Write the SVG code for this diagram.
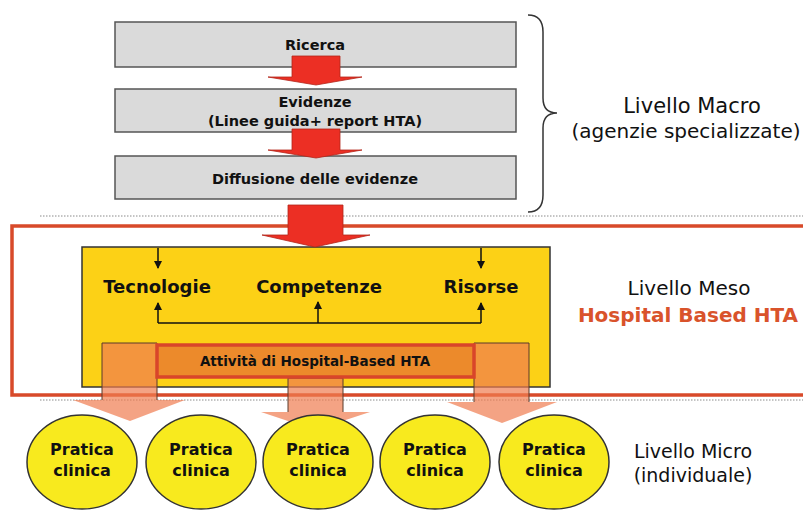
<svg xmlns="http://www.w3.org/2000/svg" width="803" height="511" viewBox="0 0 803 511">
<style>
  text { font-family: "DejaVu Sans", "Liberation Sans", sans-serif; text-anchor: middle; fill: #111; }
  .b { font-weight: bold; }
  .gray { fill: #dadada; stroke: #555; stroke-width: 1.5; }
  .redarrow { fill: #ec2f24; stroke: #b3261b; stroke-width: 0.8; }
  .salmon { fill: #f07c50; fill-opacity: 0.7; stroke: none; }
  .shaft { fill: none; stroke: #5a3b2a; stroke-width: 1; }
  .dots { stroke: #8a8a8a; stroke-width: 1; stroke-dasharray: 1.5 1.5; fill: none; }
  .conn { stroke: #111; stroke-width: 1.5; fill: none; }
  .circ { fill: #f8ea1e; stroke: #333; stroke-width: 1.5; }
  .gt { font-size: 14.5px; font-weight: bold; }
  .mt { font-size: 18px; font-weight: bold; }
  .ct { font-size: 16px; font-weight: bold; }
  .lab { font-size: 20px; }
  .labs { font-size: 19px; }
</style>
<defs>
  <marker id="ah" markerWidth="8" markerHeight="8" refX="7" refY="4" orient="auto" markerUnits="userSpaceOnUse">
    <path d="M0,0 L8,4 L0,8 Z" fill="#111"/>
  </marker>
</defs>
<rect x="0" y="0" width="803" height="511" fill="#fff"/>

<g id="separators">
  <line class="dots" x1="40" y1="216" x2="803" y2="216"/>
  <line class="dots" x1="40" y1="400" x2="803" y2="400"/>
</g>

<g id="meso-frame">
  <rect x="12" y="226" width="800" height="169" fill="none" stroke="#d84a2a" stroke-width="3.5"/>
</g>

<g id="ricerca">
  <rect class="gray" x="115" y="22" width="401" height="45"/>
  <text class="gt" x="315" y="50">Ricerca</text>
</g>
<g id="evidenze">
  <rect class="gray" x="115" y="89" width="401" height="43"/>
  <text class="gt" x="315" y="107">Evidenze</text>
  <text class="gt" x="315" y="126">(Linee guida+ report HTA)</text>
</g>
<g id="diffusione">
  <rect class="gray" x="115" y="156" width="401" height="43"/>
  <text class="gt" x="315" y="184">Diffusione delle evidenze</text>
</g>

<g id="brace">
  <path d="M528,15 Q543,15 543,32 V98 Q543,113 557,113 Q543,113 543,128 V195 Q543,212 528,212" fill="none" stroke="#333" stroke-width="1.5"/>
</g>

<g id="macro-label">
  <text class="lab" x="692" y="113" style="font-size:21px">Livello Macro</text>
  <text class="lab" x="686" y="138">(agenzie specializzate)</text>
</g>

<g id="hospital-box">
  <rect x="82" y="247" width="468" height="140" fill="#fcd116" stroke="#333" stroke-width="1.5"/>
</g>

<g id="connectors">
  <polygon class="redarrow" points="292,56 340,56 340,77 362,77 316,85 268,77 292,77"/>
  <polygon class="redarrow" points="292,129 340,129 340,150 362,150 316,158 268,150 292,150"/>
  <polygon class="redarrow" points="288,205 343,205 343,235 370,235 315,247 262,235 288,235"/>
  <line class="conn" x1="158" y1="248" x2="158" y2="268" marker-end="url(#ah)"/>
  <line class="conn" x1="481" y1="248" x2="481" y2="268" marker-end="url(#ah)"/>
  <polyline class="conn" points="158,323 481,323"/>
  <line class="conn" x1="158" y1="323" x2="158" y2="303" marker-end="url(#ah)"/>
  <line class="conn" x1="318" y1="323" x2="318" y2="302" marker-end="url(#ah)"/>
  <line class="conn" x1="481" y1="323" x2="481" y2="303" marker-end="url(#ah)"/>
  <polygon class="salmon" points="102,343 157,343 157,400 185,400 130,421 73,400 102,400"/>
  <path class="shaft" d="M102,400 V343 H157 V400"/>
  <polygon class="salmon" points="288,378 343,378 343,412 370,412 315,430 261,412 288,412"/>
  <path class="shaft" d="M288,412 V378 H343 V412"/>
  <polygon class="salmon" points="474,343 529,343 529,402 557,402 502,423 447,402 474,402"/>
  <path class="shaft" d="M474,402 V343 H529 V402"/>
</g>

<g id="tecnologie"><text class="mt" x="157" y="293">Tecnologie</text></g>
<g id="competenze"><text class="mt" x="319" y="293">Competenze</text></g>
<g id="risorse"><text class="mt" x="481" y="293">Risorse</text></g>

<g id="attivita">
  <rect x="157" y="345" width="317" height="32" fill="#ec8a2b" stroke="#d9452a" stroke-width="3.5"/>
  <text x="315" y="366" style="font-size:13.5px;font-weight:bold">Attività di Hospital-Based HTA</text>
</g>

<g id="meso-label">
  <text class="lab" x="689" y="295">Livello Meso</text>
  <text class="lab b" x="688" y="322" style="fill:#d9532b">Hospital Based HTA</text>
</g>

<g id="pratica1"><ellipse class="circ" cx="82" cy="462" rx="55" ry="47"/><text class="ct" x="82" y="455">Pratica</text><text class="ct" x="82" y="476">clinica</text></g>
<g id="pratica2"><ellipse class="circ" cx="201" cy="462" rx="55" ry="47"/><text class="ct" x="201" y="455">Pratica</text><text class="ct" x="201" y="476">clinica</text></g>
<g id="pratica3"><ellipse class="circ" cx="318" cy="462" rx="55" ry="47"/><text class="ct" x="318" y="455">Pratica</text><text class="ct" x="318" y="476">clinica</text></g>
<g id="pratica4"><ellipse class="circ" cx="435" cy="462" rx="55" ry="47"/><text class="ct" x="435" y="455">Pratica</text><text class="ct" x="435" y="476">clinica</text></g>
<g id="pratica5"><ellipse class="circ" cx="554" cy="462" rx="55" ry="47"/><text class="ct" x="554" y="455">Pratica</text><text class="ct" x="554" y="476">clinica</text></g>

<g id="micro-label">
  <text class="labs" x="693" y="458">Livello Micro</text>
  <text class="labs" x="693" y="482">(individuale)</text>
</g>
</svg>
